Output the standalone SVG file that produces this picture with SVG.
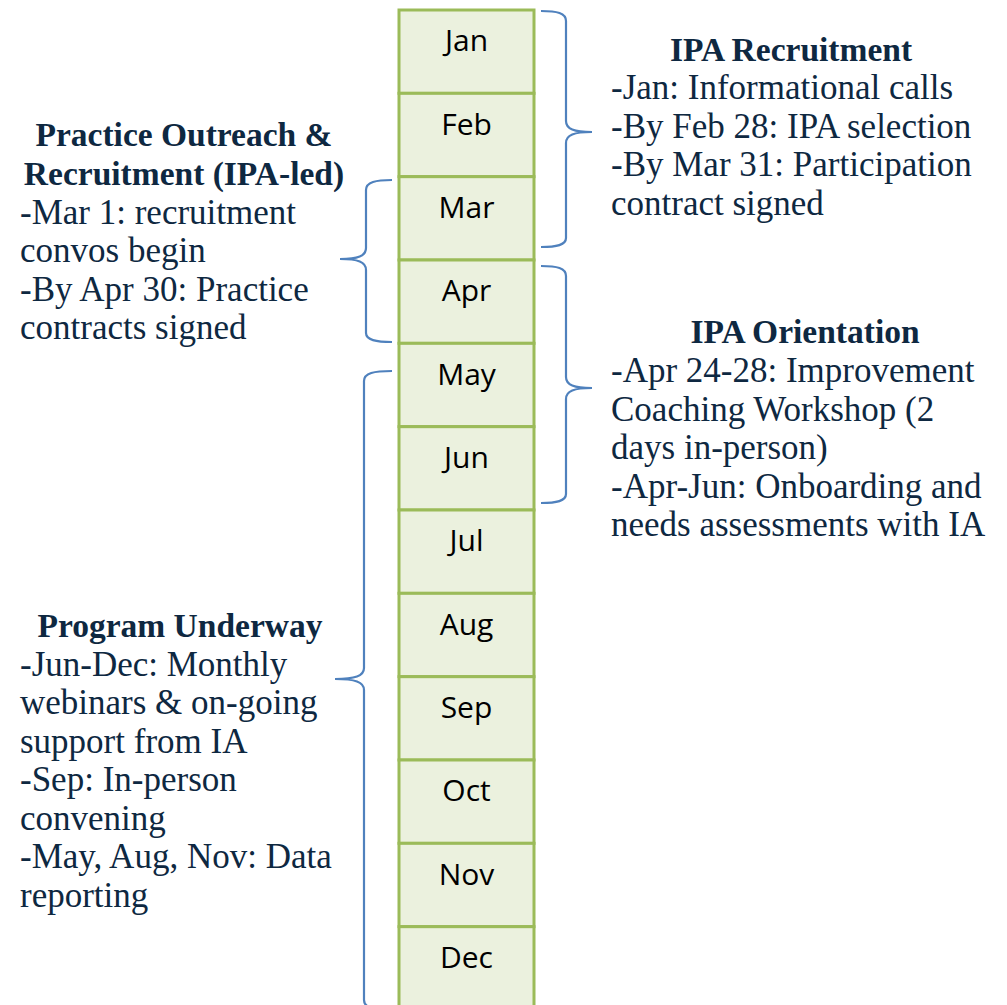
<svg xmlns="http://www.w3.org/2000/svg" width="1007" height="1005" viewBox="0 0 1007 1005">
<style>
.m rect{fill:#EBF1DE;stroke:#9BBB59;stroke-width:3}
.m text{font-family:"Open Sans","Noto Sans",sans-serif;font-size:30px;fill:#000;text-anchor:middle}
.br{fill:none;stroke:#4F81BD;stroke-width:2.2}
.t{font-family:"Liberation Serif",serif;font-size:35px;fill:#0E2841}
.h{font-weight:bold;text-anchor:middle;font-size:33.5px}
</style>
<rect width="1007" height="1005" fill="#fff"/>
<g id="months" class="m">
<g id="jan"><rect x="399" y="10" width="135" height="83.33"/><text x="466.5" y="51">Jan</text></g>
<g id="feb"><rect x="399" y="93.33" width="135" height="83.33"/><text x="466.5" y="134.5">Feb</text></g>
<g id="mar"><rect x="399" y="176.67" width="135" height="83.33"/><text x="466.5" y="217.8">Mar</text></g>
<g id="apr"><rect x="399" y="260" width="135" height="83.33"/><text x="466.5" y="301">Apr</text></g>
<g id="may"><rect x="399" y="343.33" width="135" height="83.33"/><text x="466.5" y="384.5">May</text></g>
<g id="jun"><rect x="399" y="426.67" width="135" height="83.33"/><text x="466.5" y="467.8">Jun</text></g>
<g id="jul"><rect x="399" y="510" width="135" height="83.33"/><text x="466.5" y="551">Jul</text></g>
<g id="aug"><rect x="399" y="593.33" width="135" height="83.33"/><text x="466.5" y="634.5">Aug</text></g>
<g id="sep"><rect x="399" y="676.67" width="135" height="83.33"/><text x="466.5" y="717.8">Sep</text></g>
<g id="oct"><rect x="399" y="760" width="135" height="83.33"/><text x="466.5" y="801">Oct</text></g>
<g id="nov"><rect x="399" y="843.33" width="135" height="83.33"/><text x="466.5" y="884.5">Nov</text></g>
<g id="dec"><rect x="399" y="926.67" width="135" height="83.33"/><text x="466.5" y="967.8">Dec</text></g>
</g>
<g id="connectors" class="br">
<path d="M541,11 C557,11 566,13 566,21 L566,121 C566,129 574,132 592,132 C574,132 566,135 566,143 L566,238 C566,245 557,247 541,247"/>
<path d="M541,266 C557,266 566,268 566,276 L566,377 C566,385 574,388 592,388 C574,388 566,391 566,399 L566,494 C566,501 557,503 541,503"/>
<path d="M392,180 C376,180 366,182 366,190 L366,248 C366,256 358,259 340,259 C358,259 366,262 366,270 L366,333 C366,340 376,342 392,342"/>
<path d="M392,371 C374,371 364,373 364,381 L364,668 C364,676 355,679 335,679 C355,679 364,682 364,690 L364,1000 C364,1008 374,1010 392,1010"/>
</g>
<g id="ipa-recruitment" class="t">
<text class="h" x="791" y="61">IPA Recruitment</text>
<text x="611" y="99">-Jan: Informational calls</text>
<text x="611" y="137.5">-By Feb 28: IPA selection</text>
<text x="611" y="176">-By Mar 31: Participation</text>
<text x="611" y="214.5">contract signed</text>
</g>
<g id="practice-outreach" class="t">
<text class="h" x="184" y="146">Practice Outreach &amp;</text>
<text class="h" x="184" y="185">Recruitment (IPA-led)</text>
<text x="20" y="223.5">-Mar 1: recruitment</text>
<text x="20" y="262">convos begin</text>
<text x="20" y="300.5">-By Apr 30: Practice</text>
<text x="20" y="339">contracts signed</text>
</g>
<g id="ipa-orientation" class="t">
<text class="h" x="805" y="343">IPA Orientation</text>
<text x="611" y="382">-Apr 24-28: Improvement</text>
<text x="611" y="420.5">Coaching Workshop (2</text>
<text x="611" y="459">days in-person)</text>
<text x="611" y="497.5">-Apr-Jun: Onboarding and</text>
<text x="611" y="536">needs assessments with IA</text>
</g>
<g id="program-underway" class="t">
<text class="h" x="180" y="637">Program Underway</text>
<text x="20" y="675.5">-Jun-Dec: Monthly</text>
<text x="20" y="714">webinars &amp; on-going</text>
<text x="20" y="752.5">support from IA</text>
<text x="20" y="791">-Sep: In-person</text>
<text x="20" y="829.5">convening</text>
<text x="20" y="868">-May, Aug, Nov: Data</text>
<text x="20" y="906.5">reporting</text>
</g>
</svg>
